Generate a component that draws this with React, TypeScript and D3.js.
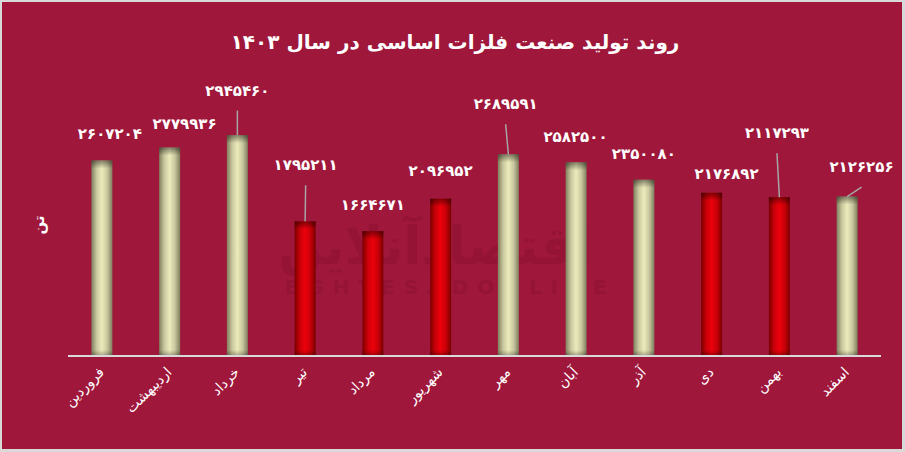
import React from "react";
import * as d3 from "d3";

const W = 905;
const H = 452;

const months = ["فروردین", "اردیبهشت", "خرداد", "تیر", "مرداد", "شهریور", "مهر", "آبان", "آذر", "دی", "بهمن", "اسفند"];
const production = [2607204, 2779936, 2945460, 1795211, 1664671, 2096952, 2689591, 2582500, 2350080, 2176892, 2117293, 2126256];
const barKinds = ["cream", "cream", "cream", "red", "red", "red", "cream", "cream", "cream", "red", "red", "cream"];
const title = "روند تولید صنعت فلزات اساسی در سال ۱۴۰۳";
const yTitle = "تن";

// layout: label offset from bar center (dx) and from bar top (dy); leader flag
const labelDx = [8, 15, 0, 0.5, 0, 0, -2.7, -0.6, 0, 15, -2.4, 14.4];
const labelDy = [-27, -24.6, -45.5, -57, -27, -28.7, -51, -26, -26.7, -19.7, -65, -30.5];
const hasLeader = [false, false, true, true, false, false, true, false, false, false, true, true];

const toFa = (n: number) => String(n).replace(/\d/g, (d) => "۰۱۲۳۴۵۶۷۸۹"[+d]);

const FONT = "'DejaVu Sans', sans-serif";

export default function App() {
  const x = d3.scaleBand<string>().domain(months).range([68, 881]).paddingInner(0.69).paddingOuter(0.345);
  const y = d3.scaleLinear().domain([0, 3000000]).range([356, 131]);
  const bw = x.bandwidth();

  return (
    <svg width={W} height={H} style={{ position: "absolute", left: 0, top: 0 }}>
      <defs>
        <linearGradient id="creamH" x1="0" x2="1" y1="0" y2="0">
          <stop offset="0" stopColor="#7f7f5e" />
          <stop offset="0.25" stopColor="#c9c79e" />
          <stop offset="0.5" stopColor="#ecebbb" />
          <stop offset="0.75" stopColor="#c9c79e" />
          <stop offset="1" stopColor="#7f7f5e" />
        </linearGradient>
        <linearGradient id="redH" x1="0" x2="1" y1="0" y2="0">
          <stop offset="0" stopColor="#7a0000" />
          <stop offset="0.25" stopColor="#c80008" />
          <stop offset="0.5" stopColor="#ec000c" />
          <stop offset="0.75" stopColor="#c80008" />
          <stop offset="1" stopColor="#7a0000" />
        </linearGradient>
        <linearGradient id="topShade" x1="0" x2="0" y1="0" y2="1">
          <stop offset="0" stopColor="#000" stopOpacity="0.45" />
          <stop offset="1" stopColor="#000" stopOpacity="0" />
        </linearGradient>
        <linearGradient id="botShade" x1="0" x2="0" y1="0" y2="1">
          <stop offset="0" stopColor="#000" stopOpacity="0" />
          <stop offset="1" stopColor="#000" stopOpacity="0.3" />
        </linearGradient>
      </defs>
      <rect x={0} y={0} width={W} height={H} fill="#d9d9d9" />
      <rect x={2} y={2} width={W - 5} height={H - 5} fill="#9f173b" />

      {/* watermark */}
      <g opacity={0.45} fill="#8a1232">
        <text x={435} y={264} textAnchor="middle" fontFamily={FONT} fontWeight="bold" fontSize={52}>اقتصادآنلاین</text>
        <text x={450} y={294} textAnchor="middle" fontFamily={FONT} fontWeight="bold" fontSize={20} letterSpacing={9}>EGHTESADONLINE</text>
      </g>

      <text x={455} y={49} textAnchor="middle" fill="#fff" fontFamily={FONT} fontWeight="bold" fontSize={20}>{title}</text>

      <text transform="translate(44,225) rotate(-90)" textAnchor="middle" fill="#fff" fontFamily={FONT} fontWeight="bold" fontSize={15}>{yTitle}</text>

      {months.map((m, i) => {
        const bx = x(m)!;
        const top = y(production[i]);
        const h = y(0) - top;
        return (
          <g key={m}>
            <rect x={bx} y={top} width={bw} height={h} fill={barKinds[i] === "red" ? "url(#redH)" : "url(#creamH)"} />
            <rect x={bx} y={top} width={bw} height={Math.min(8, h)} fill="url(#topShade)" />
            <rect x={bx} y={y(0) - 6} width={bw} height={6} fill="url(#botShade)" />
          </g>
        );
      })}

      <line x1={68} x2={881} y1={356} y2={356} stroke="#d9d9d9" strokeWidth={2} />

      {months.map((m, i) => {
        const cx = x(m)! + bw / 2;
        const top = y(production[i]);
        const lx = cx + labelDx[i];
        const ly = top + labelDy[i];
        return (
          <g key={"l" + m}>
            {hasLeader[i] && (
              <line x1={lx} y1={ly + 21} x2={cx} y2={top} stroke="#a6a6a6" strokeWidth={1.5} />
            )}
            <text x={lx} y={ly + 6} textAnchor="middle" fill="#fff" fontFamily={FONT} fontWeight="bold" fontSize={15}>
              {toFa(production[i])}
            </text>
          </g>
        );
      })}

      {months.map((m) => {
        const cx = x(m)! + bw / 2;
        return (
          <text key={"c" + m} transform={`translate(${cx + 3},${373}) rotate(-45)`} textAnchor="end" fill="#fff" fontFamily={FONT} fontSize={14}>
            {m}
          </text>
        );
      })}
    </svg>
  );
}
